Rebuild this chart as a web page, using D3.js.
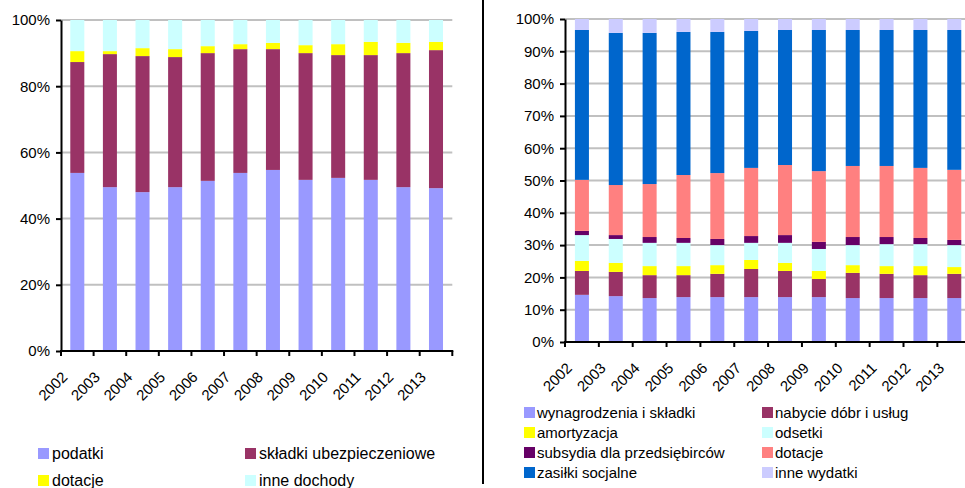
<!DOCTYPE html>
<html>
<head>
<meta charset="utf-8">
<title>Struktura dochodów i wydatków</title>
<style>
body { margin: 0; background: #fff; }
text { font-family: "Liberation Sans", Arial, sans-serif; fill: #000; }
.grid line { stroke: #c0c0c0; stroke-width: 2px; }
.axis path, .axis line { stroke: #000; stroke-width: 2px; }
.axis text { font-size: 15px; }
</style>
</head>
<body>
<script src="https://cdn.jsdelivr.net/npm/d3@7"></script>
<script>
var years = ["2002", "2003", "2004", "2005", "2006", "2007", "2008", "2009", "2010", "2011", "2012", "2013"];

// dochody (lewy wykres), w %
var podatki  = [53.8, 49.5, 48.0, 49.5, 51.4, 53.8, 54.7, 51.7, 52.3, 51.7, 49.5, 49.2];
var skladki  = [33.5, 40.2, 41.1, 39.3, 38.6, 37.4, 36.5, 38.3, 37.1, 37.7, 40.5, 41.7];
var dotacjeD = [3.3, 0.9, 2.4, 2.4, 2.1, 1.5, 1.9, 2.4, 3.3, 4.0, 3.1, 2.5];
var inneDoch = [9.4, 9.4, 8.5, 8.8, 7.9, 7.3, 6.9, 7.6, 7.3, 6.6, 6.9, 6.6];

// wydatki (prawy wykres), w %
var wynagrodzenia = [14.6, 14.2, 13.6, 13.9, 13.9, 13.9, 13.9, 13.9, 13.6, 13.6, 13.6, 13.6];
var nabycie       = [7.4, 7.5, 7.1, 6.8, 7.2, 8.7, 8.1, 5.6, 7.8, 7.5, 7.1, 7.5];
var amortyzacja   = [3.1, 2.8, 2.8, 2.8, 2.7, 2.8, 2.5, 2.5, 2.4, 2.4, 2.8, 2.1];
var odsetki       = [8.0, 7.4, 7.2, 7.2, 6.2, 5.3, 6.2, 6.8, 6.2, 6.8, 6.8, 6.8];
var subsydia      = [1.3, 1.2, 1.8, 1.5, 1.9, 2.1, 2.4, 2.2, 2.5, 2.2, 1.9, 1.6];
var dotacjeW      = [15.8, 15.5, 16.4, 19.5, 20.4, 21.1, 21.7, 21.9, 22.0, 22.0, 21.7, 21.7];
var zasilki       = [46.4, 47.1, 46.8, 44.3, 43.7, 42.4, 41.8, 43.7, 42.1, 42.1, 42.7, 43.3];
var inneWyd       = [3.4, 4.3, 4.3, 4.0, 4.0, 3.7, 3.4, 3.4, 3.4, 3.4, 3.4, 3.4];

var leftSeries = [
  {name: "podatki", values: podatki, color: "#9999ff"},
  {name: "składki ubezpieczeniowe", values: skladki, color: "#993366"},
  {name: "dotacje", values: dotacjeD, color: "#ffff00"},
  {name: "inne dochody", values: inneDoch, color: "#ccffff"}
];

var rightSeries = [
  {name: "wynagrodzenia i składki", values: wynagrodzenia, color: "#9999ff"},
  {name: "nabycie dóbr i usług", values: nabycie, color: "#993366"},
  {name: "amortyzacja", values: amortyzacja, color: "#ffff00"},
  {name: "odsetki", values: odsetki, color: "#ccffff"},
  {name: "subsydia dla przedsiębirców", values: subsydia, color: "#660066"},
  {name: "dotacje", values: dotacjeW, color: "#ff8080"},
  {name: "zasiłki socjalne", values: zasilki, color: "#0066cc"},
  {name: "inne wydatki", values: inneWyd, color: "#ccccff"}
];

var width = 965, height = 488;

var svg = d3.select("body").append("svg")
  .attr("width", width)
  .attr("height", height);

// ramka prawego wykresu
svg.append("line")
  .attr("x1", 483).attr("x2", 483)
  .attr("y1", 0).attr("y2", 484)
  .attr("stroke", "#000").attr("stroke-width", 2);

function drawChart(cfg) {
  var series = cfg.series;
  var rows = years.map(function(yr, i) {
    var r = {year: yr};
    series.forEach(function(s) { r[s.name] = s.values[i]; });
    return r;
  });

  var stack = d3.stack()
    .keys(series.map(function(s) { return s.name; }))
    .offset(d3.stackOffsetExpand);
  var stacked = stack(rows);

  var x = d3.scaleBand()
    .domain(years)
    .range([cfg.x0, cfg.x1])
    .paddingInner(cfg.pad)
    .paddingOuter(cfg.pad / 2);

  var y = d3.scaleLinear()
    .domain([0, 1])
    .range([cfg.y0, cfg.y1]);

  var g = svg.append("g");

  // linie siatki
  g.append("g").attr("class", "grid")
    .selectAll("line")
    .data(cfg.ticks.filter(function(t) { return t > 0; }))
    .enter().append("line")
    .attr("x1", cfg.x0).attr("x2", cfg.gridEnd)
    .attr("y1", function(d) { return y(d); })
    .attr("y2", function(d) { return y(d); });

  // słupki
  g.selectAll("g.layer")
    .data(stacked)
    .enter().append("g")
    .attr("class", "layer")
    .attr("fill", function(d, i) { return series[i].color; })
    .selectAll("rect")
    .data(function(d) { return d; })
    .enter().append("rect")
    .attr("x", function(d) { return x(d.data.year); })
    .attr("width", x.bandwidth())
    .attr("y", function(d) { return y(d[1]); })
    .attr("height", function(d) { return y(d[0]) - y(d[1]); });

  // oś Y
  g.append("g").attr("class", "axis")
    .attr("transform", "translate(" + cfg.x0 + ",0)")
    .call(d3.axisLeft(y).tickValues(cfg.ticks).tickFormat(d3.format(".0%")).tickSize(5).tickSizeOuter(0).tickPadding(6));

  // oś X z kreskami między kategoriami
  var ax = g.append("g").attr("class", "axis");
  ax.append("line")
    .attr("x1", cfg.x0 - 1).attr("x2", Math.min(cfg.x1, width) + 1)
    .attr("y1", cfg.y0).attr("y2", cfg.y0);
  var bounds = years.map(function(yr) { return x(yr) - (x.step() - x.bandwidth()) / 2; });
  bounds.push(cfg.x1);
  ax.selectAll("line.tick")
    .data(bounds)
    .enter().append("line")
    .attr("class", "tick")
    .attr("x1", function(d) { return d; }).attr("x2", function(d) { return d; })
    .attr("y1", cfg.y0).attr("y2", cfg.y0 + 5);
  ax.selectAll("text")
    .data(years)
    .enter().append("text")
    .attr("text-anchor", "end")
    .attr("transform", function(d) {
      return "translate(" + (x(d) + x.bandwidth() / 2 - 9) + "," + (cfg.y0 + 27) + ") rotate(-45)";
    })
    .text(function(d) { return d; });

  // legenda
  var leg = g.append("g");
  var item = leg.selectAll("g")
    .data(series)
    .enter().append("g")
    .attr("transform", function(d, i) {
      return "translate(" + cfg.legX[i % 2] + "," + (cfg.legY + Math.floor(i / 2) * cfg.legStep) + ")";
    });
  item.append("rect")
    .attr("width", 11).attr("height", 11)
    .attr("y", -11)
    .attr("fill", function(d) { return d.color; });
  item.append("text")
    .attr("x", cfg.legGap)
    .attr("y", 0)
    .style("font-size", cfg.legFont)
    .text(function(d) { return d.name; });
}

drawChart({
  series: leftSeries,
  x0: 61, x1: 452.3, y0: 351, y1: 20,
  gridEnd: 452.3,
  pad: 0.57,
  ticks: [0, 0.2, 0.4, 0.6, 0.8, 1],
  legX: [38, 245], legY: 459, legStep: 27, legGap: 14, legFont: "16px"
});

drawChart({
  series: rightSeries,
  x0: 565, x1: 971.2, y0: 342, y1: 19,
  gridEnd: 971.2,
  pad: 0.586,
  ticks: [0, 0.1, 0.2, 0.3, 0.4, 0.5, 0.6, 0.7, 0.8, 0.9, 1],
  legX: [524, 762], legY: 418, legStep: 20, legGap: 13, legFont: "15px"
});
</script>
</body>
</html>
